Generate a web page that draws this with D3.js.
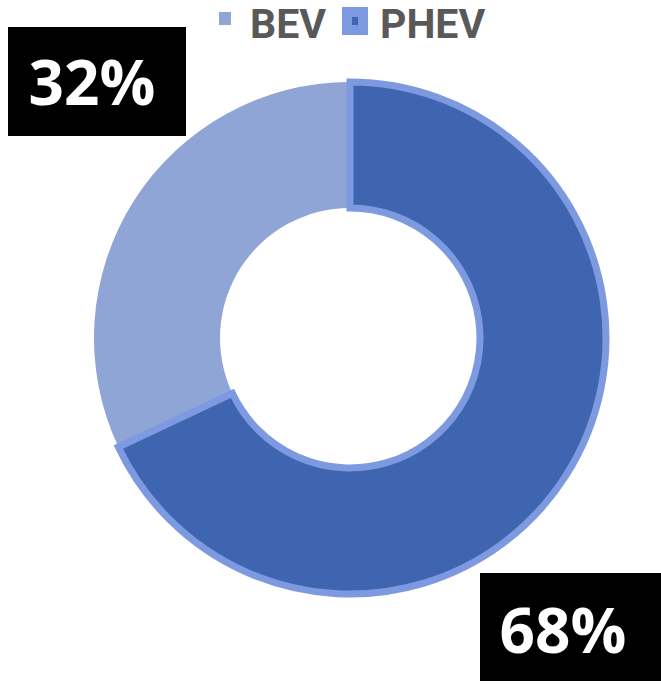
<!DOCTYPE html>
<html>
<head>
<meta charset="utf-8">
<script src="https://cdn.jsdelivr.net/npm/d3@7"></script>
<style>
  body { margin: 0; background: #fff; }
  svg { display: block; font-family: "Open Sans", sans-serif; }
</style>
</head>
<body>
<div id="chart"></div>
<script>
let width = 661, height = 685;

// data
let categories = ["BEV", "PHEV"];
let shares = [32, 68];
let labels = ["32%", "68%"];

let fills = ["#8fa5d5", "#3f65b0"];
let strokes = ["none", "#7d9ae0"];

let svg = d3.select("#chart").append("svg")
    .attr("width", width)
    .attr("height", height);

let cx = 350, cy = 338;
let outerR = 256, innerR = 130;

let start = -shares[0] / d3.sum(shares) * 2 * Math.PI;
let pie = d3.pie().sort(null)
    .startAngle(start)
    .endAngle(start + 2 * Math.PI);

let arc = d3.arc().innerRadius(innerR).outerRadius(outerR);

let g = svg.append("g").attr("transform", `translate(${cx},${cy})`);

g.selectAll("path")
    .data(pie(shares))
    .enter().append("path")
    .attr("d", arc)
    .style("fill", (d, i) => fills[i])
    .style("stroke", (d, i) => strokes[i])
    .style("stroke-width", 7)
    .style("stroke-linejoin", "miter");

// legend
let legend = svg.append("g").attr("class", "legend");
// BEV marker
legend.append("rect")
    .attr("x", 219).attr("y", 12)
    .attr("width", 12).attr("height", 13)
    .style("fill", fills[0]);
// PHEV marker (with border like the slice)
legend.append("rect")
    .attr("x", 347).attr("y", 12)
    .attr("width", 16).attr("height", 18)
    .style("fill", fills[1])
    .style("stroke", strokes[1])
    .style("stroke-width", 10);

let legendX = [250, 380];
legend.selectAll("text")
    .data(categories)
    .enter().append("text")
    .attr("x", (d, i) => legendX[i])
    .attr("y", 38)
    .style("font-family", "Roboto, sans-serif")
    .style("font-size", "41px")
    .style("font-weight", "bold")
    .style("fill", "#595959")
    .text(d => d);

// value boxes
let boxes = [
    {x: 8, y: 27, w: 178, h: 109, tx: 92, ty: 105},
    {x: 480, y: 573, w: 181, h: 108, tx: 563, ty: 653}
];

let boxG = svg.selectAll("g.box")
    .data(labels)
    .enter().append("g")
    .attr("class", "box");

boxG.append("rect")
    .attr("x", (d, i) => boxes[i].x)
    .attr("y", (d, i) => boxes[i].y)
    .attr("width", (d, i) => boxes[i].w)
    .attr("height", (d, i) => boxes[i].h)
    .style("fill", "#000");

boxG.append("text")
    .attr("x", (d, i) => boxes[i].tx)
    .attr("y", (d, i) => boxes[i].ty)
    .attr("text-anchor", "middle")
    .style("font-size", "62px")
    .style("font-weight", "bold")
    .style("fill", "#fff")
    .text(d => d);
</script>
</body>
</html>
